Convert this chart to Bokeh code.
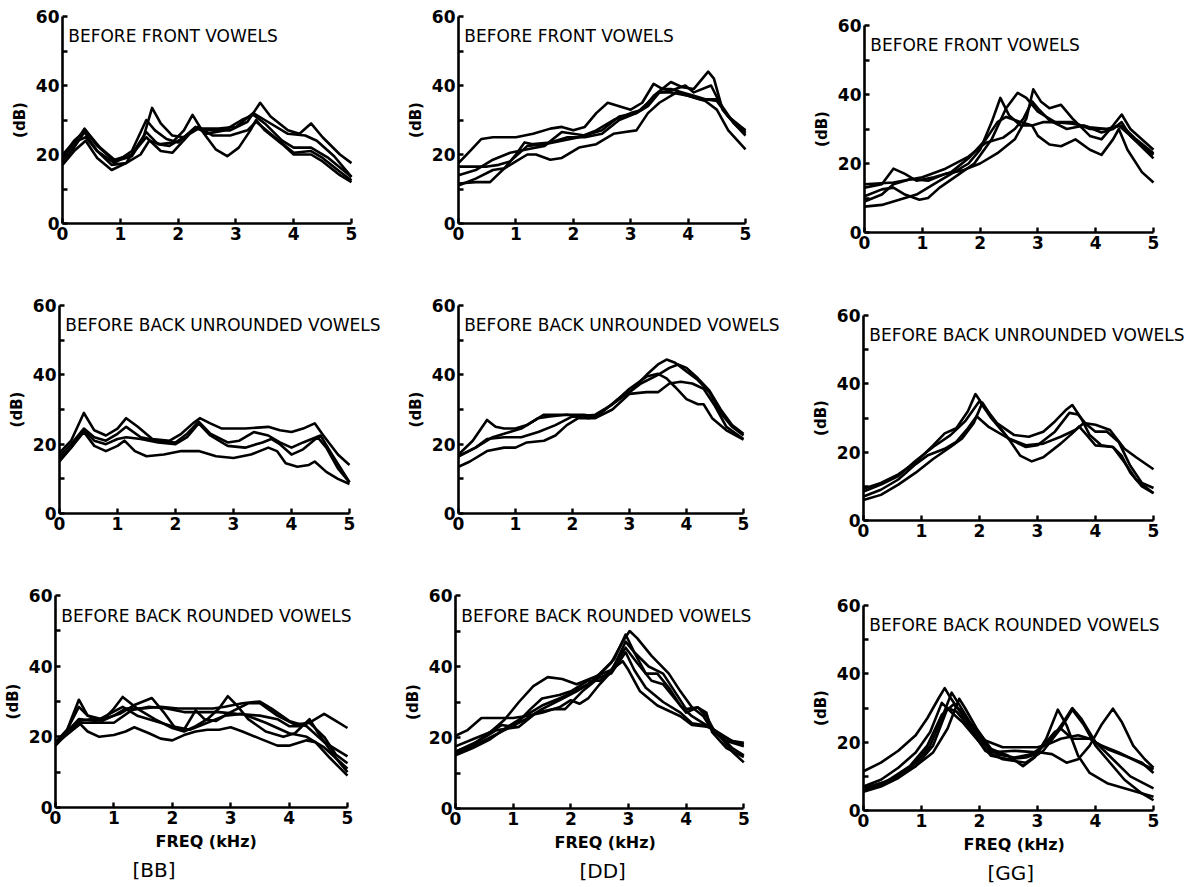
from bokeh.plotting import figure
from bokeh.layouts import row, column
from bokeh.models import FixedTicker, Label, Title, Range1d
from bokeh.embed import file_html
from bokeh.resources import INLINE

FREQ_TICKS = [0, 1, 2, 3, 4, 5]
DB_TICKS = [0, 20, 40, 60]
DB_MINOR = [10, 30, 50]
PANEL_TITLES = ["BEFORE FRONT VOWELS", "BEFORE BACK UNROUNDED VOWELS", "BEFORE BACK ROUNDED VOWELS"]
CONSONANTS = ["[BB]", "[DD]", "[GG]"]
X_LABEL = "FREQ (kHz)"
Y_LABEL = "(dB)"

# each curve: list of [frequency kHz, level dB]
BB_FRONT = [
    [[0, 19], [0.2, 23], [0.38, 27.5], [0.6, 22.5], [0.9, 18], [1.2, 19.5], [1.4, 25], [1.55, 33.5], [1.7, 29], [1.9, 25.5], [2.1, 25], [2.3, 27.5], [2.6, 27], [2.9, 27], [3.2, 29.5], [3.42, 35], [3.6, 31], [3.9, 27], [4.1, 26], [4.3, 29], [4.5, 25], [4.8, 20], [5, 17.5]],
    [[0, 18], [0.2, 22], [0.38, 26.5], [0.6, 21], [0.85, 17], [1.1, 17.5], [1.35, 20], [1.5, 24], [1.7, 23], [1.9, 23.5], [2.1, 27], [2.25, 31.5], [2.45, 26], [2.65, 21.5], [2.85, 19.5], [3.05, 22], [3.25, 27], [3.35, 30], [3.5, 27], [3.8, 23], [4.0, 20], [4.3, 20], [4.5, 18], [4.8, 14], [5, 12]],
    [[0, 20], [0.2, 23.5], [0.4, 25], [0.6, 21], [0.9, 17.5], [1.2, 21], [1.45, 30], [1.6, 27], [1.8, 24.5], [2.0, 23.5], [2.3, 28], [2.5, 26], [2.8, 27], [3.1, 30], [3.3, 31.5], [3.5, 29], [3.8, 24], [4.0, 22], [4.3, 22], [4.6, 19], [5, 13.5]],
    [[0, 17], [0.2, 21], [0.4, 24], [0.6, 19], [0.85, 15.5], [1.1, 17.5], [1.45, 26.5], [1.65, 23], [1.85, 22.5], [2.1, 25], [2.35, 28], [2.6, 25.5], [2.9, 25.5], [3.2, 27], [3.35, 29.5], [3.6, 26], [4.0, 20.5], [4.3, 21], [4.5, 19], [4.8, 15], [5, 12.5]],
    [[0, 19.5], [0.2, 24], [0.4, 27], [0.65, 22], [0.9, 18.5], [1.2, 20], [1.45, 25], [1.7, 21], [1.9, 20.5], [2.2, 26], [2.35, 27.5], [2.7, 27.5], [3.0, 28], [3.3, 32], [3.5, 30], [3.9, 26], [4.2, 25.5], [4.4, 24], [4.7, 19.5], [5, 13.5]],
]
DD_FRONT = [
    [[0, 17.5], [0.2, 21], [0.4, 24.5], [0.6, 25], [1.0, 25], [1.3, 26], [1.6, 27.5], [1.8, 28], [2.0, 27], [2.2, 28], [2.4, 32], [2.6, 35], [2.8, 34], [3.0, 33], [3.2, 35], [3.4, 40.5], [3.55, 39], [3.7, 39], [3.9, 38], [4.1, 37], [4.3, 36], [4.5, 35.5], [4.7, 31], [5, 27]],
    [[0, 16.5], [0.5, 16.5], [0.7, 17], [0.9, 18], [1.2, 22.5], [1.5, 23], [1.8, 24], [2.1, 25], [2.4, 27], [2.7, 30], [3.0, 32], [3.2, 33], [3.4, 37], [3.7, 41], [3.9, 39.5], [4.1, 39], [4.35, 44], [4.45, 42], [4.6, 33], [4.8, 29], [5, 26]],
    [[0, 14], [0.3, 15.5], [0.6, 18.5], [0.9, 20.5], [1.2, 21.5], [1.5, 22.5], [1.8, 26.5], [2.0, 26], [2.2, 25.5], [2.5, 27], [2.8, 31], [3.1, 32], [3.3, 34], [3.5, 38], [3.7, 38.5], [3.95, 40], [4.1, 38], [4.4, 40], [4.55, 35], [4.8, 29], [5, 25.5]],
    [[0, 11.6], [0.3, 12], [0.55, 12], [0.8, 16], [1.0, 20], [1.15, 23.5], [1.3, 23], [1.6, 23.5], [1.9, 25], [2.2, 25], [2.5, 26], [2.8, 30], [3.1, 32], [3.3, 35], [3.5, 38], [3.7, 38], [4.0, 37], [4.3, 35.5], [4.5, 33], [4.7, 27], [5, 21.5]],
    [[0, 11], [0.3, 13], [0.6, 15.5], [0.8, 16], [1.0, 18], [1.2, 20], [1.35, 20], [1.6, 18.5], [1.8, 19], [2.1, 22], [2.4, 23], [2.7, 26], [2.9, 26.5], [3.1, 27], [3.3, 32], [3.5, 35], [3.8, 38], [4.0, 37], [4.2, 36], [4.5, 36], [4.7, 31], [5, 26.5]],
]
GG_FRONT = [
    [[0, 7.5], [0.3, 8], [0.6, 9.5], [0.9, 11], [1.2, 14], [1.5, 17], [1.8, 20], [2.0, 24], [2.2, 32], [2.35, 39], [2.5, 34], [2.7, 31], [2.9, 31], [3.0, 28], [3.2, 25.5], [3.4, 25], [3.65, 27], [3.9, 24], [4.1, 22.5], [4.3, 27], [4.4, 30], [4.55, 24], [4.8, 17.5], [5, 14.5]],
    [[0, 10.5], [0.3, 12.5], [0.5, 13], [0.7, 11], [0.95, 9.5], [1.1, 10], [1.3, 13], [1.6, 16.5], [1.9, 20], [2.2, 27], [2.45, 36], [2.65, 40.5], [2.8, 39], [3.0, 35], [3.3, 32], [3.6, 31.5], [3.9, 30.5], [4.2, 30], [4.45, 31], [4.7, 27], [5, 23]],
    [[0, 9], [0.3, 11], [0.5, 14], [0.8, 15.5], [1.1, 15], [1.4, 17], [1.7, 18], [2.0, 20], [2.3, 23], [2.6, 27], [2.8, 33], [2.92, 41.5], [3.05, 38], [3.2, 36], [3.4, 37], [3.6, 33], [3.9, 28], [4.1, 27], [4.3, 31], [4.45, 34.2], [4.6, 30], [5, 24]],
    [[0, 13], [0.3, 14], [0.5, 18.5], [0.7, 17], [0.9, 15], [1.2, 16], [1.5, 17.5], [1.8, 21.5], [2.1, 27], [2.3, 32], [2.45, 33.5], [2.7, 32], [2.9, 31], [3.1, 32], [3.6, 32], [3.9, 30], [4.2, 30], [4.4, 31], [4.6, 28], [5, 21.5]],
    [[0, 14], [0.5, 14.5], [1.0, 16], [1.4, 18.5], [1.8, 22], [2.1, 26], [2.4, 27.5], [2.6, 30], [2.75, 33], [2.9, 38], [3.0, 36], [3.2, 32.5], [3.5, 30], [3.8, 31], [4.1, 29], [4.3, 30], [4.45, 32], [4.6, 28], [5, 22.5]],
]
BB_UNROUNDED = [
    [[0, 17.5], [0.2, 21], [0.42, 29], [0.6, 24], [0.8, 22.5], [1.0, 24.5], [1.15, 27.5], [1.35, 25], [1.6, 21.5], [1.9, 21], [2.1, 23], [2.3, 26], [2.42, 27.5], [2.6, 26], [2.8, 24.5], [3.2, 24.5], [3.6, 25], [3.8, 24], [4.0, 23.5], [4.2, 24.5], [4.4, 26], [4.55, 22.5], [4.8, 17], [5, 14]],
    [[0, 16.5], [0.2, 20], [0.42, 24.5], [0.6, 22], [0.8, 21], [1.0, 23], [1.15, 25], [1.4, 22], [1.7, 21], [2.0, 20.5], [2.2, 23], [2.4, 26.5], [2.6, 23], [2.9, 20.5], [3.1, 21], [3.35, 23.5], [3.6, 22.5], [3.8, 20.5], [4.0, 19], [4.2, 20.5], [4.5, 22.5], [4.7, 17], [5, 9]],
    [[0, 15.5], [0.2, 19], [0.42, 24], [0.6, 21], [0.8, 20], [1.0, 21.5], [1.15, 22], [1.4, 21.5], [1.7, 20.5], [2.0, 20], [2.2, 22], [2.4, 26], [2.6, 22.5], [2.9, 19.5], [3.2, 19], [3.5, 20.5], [3.65, 21.5], [3.8, 20], [4.0, 17], [4.2, 18.5], [4.45, 22], [4.6, 19], [4.8, 13], [5, 9]],
    [[0, 15], [0.2, 19], [0.42, 23.5], [0.6, 19.5], [0.8, 18], [1.0, 19.5], [1.12, 21], [1.3, 18], [1.5, 16.5], [1.8, 17], [2.1, 18], [2.4, 18], [2.7, 16.5], [3.0, 16], [3.3, 17], [3.6, 19], [3.75, 18], [3.9, 14.5], [4.1, 13.5], [4.3, 14], [4.4, 15], [4.6, 12], [4.8, 10], [5, 8.5]],
]
DD_UNROUNDED = [
    [[0, 17], [0.25, 21], [0.5, 27], [0.65, 25], [0.8, 24.5], [1.0, 24.5], [1.2, 25.5], [1.4, 27.5], [1.6, 28], [1.9, 28.5], [2.1, 28], [2.4, 28.5], [2.7, 31.5], [3.0, 36], [3.3, 39.5], [3.5, 40.3], [3.65, 39], [3.8, 36.5], [4.0, 33], [4.2, 31.5], [4.3, 31.5], [4.45, 27.5], [4.7, 24], [5, 21.3]],
    [[0, 16.5], [0.3, 19], [0.6, 22], [0.9, 23.5], [1.1, 24.5], [1.3, 26.5], [1.5, 28.5], [1.8, 28.5], [2.0, 28.5], [2.2, 28.5], [2.4, 28], [2.7, 31.5], [3.0, 35], [3.3, 40], [3.5, 43], [3.65, 44.4], [3.8, 43.5], [4.0, 41], [4.2, 38.5], [4.4, 35], [4.6, 29], [4.8, 25], [5, 22.5]],
    [[0, 16.5], [0.3, 19], [0.5, 21.5], [0.8, 22], [1.1, 22], [1.4, 23.5], [1.7, 25.5], [2.0, 28], [2.3, 27.5], [2.5, 29], [2.8, 33], [3.0, 35], [3.2, 37.5], [3.5, 40], [3.7, 42], [3.85, 43], [4.0, 42], [4.2, 39], [4.4, 35.5], [4.6, 30], [4.8, 25.5], [5, 23]],
    [[0, 13.5], [0.2, 15], [0.5, 18], [0.8, 19], [1.0, 19], [1.2, 20.5], [1.5, 21], [1.7, 22.5], [1.9, 25.5], [2.1, 27.5], [2.4, 27.5], [2.7, 30], [3.0, 34.5], [3.3, 35], [3.5, 35], [3.7, 37.5], [3.9, 38], [4.1, 37.5], [4.3, 36], [4.5, 31], [4.7, 25], [5, 21.5]],
]
GG_UNROUNDED = [
    [[0, 9.3], [0.3, 11], [0.6, 13.5], [0.9, 17], [1.2, 22], [1.4, 25.5], [1.6, 27], [1.8, 32], [1.93, 37], [2.05, 34], [2.3, 28.5], [2.6, 25], [2.85, 24.5], [3.1, 26], [3.3, 29], [3.5, 32.5], [3.6, 33.8], [3.75, 30], [3.9, 25], [4.1, 22], [4.3, 21.5], [4.45, 19], [4.6, 14], [4.8, 10], [5, 8]],
    [[0, 8.5], [0.3, 10.5], [0.6, 13], [0.9, 17.5], [1.2, 21.5], [1.5, 25], [1.75, 29], [2.0, 35], [2.2, 30], [2.5, 24], [2.8, 21.5], [3.0, 22], [3.3, 26], [3.55, 31.5], [3.7, 31], [3.85, 28], [4.0, 26], [4.2, 26], [4.4, 23], [4.6, 16], [4.8, 11], [5, 9.5]],
    [[0, 6], [0.3, 7.5], [0.6, 10.5], [0.9, 14], [1.2, 18], [1.5, 21.5], [1.7, 24], [1.9, 28.5], [2.05, 34.5], [2.2, 30.5], [2.5, 24], [2.7, 19], [2.9, 17.3], [3.1, 18.5], [3.4, 22.5], [3.6, 25.5], [3.72, 27.5], [3.85, 25], [4.0, 22], [4.3, 21.5], [4.5, 17], [4.7, 12], [5, 8]],
    [[0, 7], [0.3, 9], [0.6, 12], [0.9, 16.5], [1.1, 19], [1.4, 21], [1.6, 23], [1.8, 27], [1.95, 30.5], [2.15, 27.5], [2.5, 24], [2.8, 22], [3.1, 22.5], [3.4, 24.5], [3.65, 26.5], [3.8, 28.5], [4.0, 28], [4.25, 26.5], [4.5, 21], [4.7, 18.5], [5, 15]],
]
BB_ROUNDED = [
    [[0, 18], [0.2, 22], [0.4, 30.5], [0.55, 26], [0.8, 24.5], [1.0, 28], [1.15, 31.3], [1.4, 28], [1.7, 25], [2.0, 22.5], [2.2, 21.5], [2.4, 23], [2.6, 25], [2.8, 28], [2.95, 31.5], [3.1, 29], [3.3, 25], [3.6, 21.5], [3.9, 20], [4.1, 21], [4.35, 25], [4.5, 21], [4.8, 14], [5, 10]],
    [[0, 18.5], [0.2, 22], [0.4, 28.5], [0.55, 26], [0.8, 25], [1.1, 26.5], [1.35, 29], [1.65, 31], [1.85, 27], [2.05, 22.5], [2.2, 22], [2.4, 27.5], [2.55, 25], [2.75, 24.5], [3.0, 27], [3.3, 29.5], [3.5, 29.5], [3.8, 26], [4.1, 23.5], [4.35, 24], [4.6, 20], [4.8, 15], [5, 12.5]],
    [[0, 18], [0.2, 21.5], [0.4, 24.5], [0.6, 25], [0.8, 24.5], [1.0, 26], [1.2, 28], [1.5, 28], [1.8, 28.5], [2.1, 28], [2.4, 28], [2.7, 28], [2.9, 28.5], [3.2, 29.5], [3.5, 30], [3.7, 28], [4.0, 24.5], [4.3, 23], [4.6, 18.5], [5, 14.5]],
    [[0, 18], [0.3, 22], [0.45, 24], [0.7, 24], [1.0, 24], [1.3, 27.5], [1.6, 28.5], [1.9, 28], [2.2, 27], [2.5, 27], [2.8, 27], [3.1, 26.5], [3.5, 26], [3.8, 25], [4.0, 23], [4.2, 23], [4.4, 24.5], [4.6, 26.5], [4.8, 24.5], [5, 22.5]],
    [[0, 17.5], [0.2, 21], [0.4, 24], [0.55, 21.5], [0.75, 20], [1.0, 20.5], [1.2, 21.5], [1.35, 22.7], [1.6, 21], [1.8, 19.5], [2.0, 19], [2.2, 20.5], [2.4, 21.5], [2.6, 22], [2.8, 22], [3.0, 22.7], [3.2, 21.5], [3.5, 19.5], [3.8, 17.5], [4.0, 17.5], [4.3, 19], [4.45, 18.5], [4.7, 14], [5, 9]],
    [[0, 18], [0.4, 25], [0.7, 24.5], [1.15, 28.5], [1.4, 26], [1.7, 24.5], [2.0, 23], [2.3, 22], [2.6, 24], [2.9, 26], [3.2, 26.5], [3.6, 24], [4.0, 21], [4.3, 20], [4.6, 17], [5, 11]],
]
DD_ROUNDED = [
    [[0, 15.5], [0.3, 17.5], [0.6, 20], [0.9, 22.5], [1.2, 25], [1.5, 28], [1.8, 30.5], [2.1, 33], [2.4, 36], [2.7, 41], [2.9, 47], [3.02, 50], [3.15, 48], [3.4, 43], [3.7, 38], [3.9, 33], [4.1, 28.5], [4.3, 26], [4.45, 22], [4.7, 19], [5, 17.5]],
    [[0, 17.5], [0.3, 19.5], [0.6, 21.5], [0.85, 25], [1.1, 30], [1.35, 34.5], [1.6, 37], [1.85, 36.5], [2.1, 35], [2.4, 37], [2.7, 39], [2.9, 41.5], [3.0, 39], [3.2, 33], [3.5, 29], [3.9, 26], [4.1, 23.5], [4.4, 23], [4.6, 20], [4.8, 16], [5, 13]],
    [[0, 20.5], [0.2, 22], [0.45, 25.5], [0.8, 25.5], [1.0, 25.5], [1.2, 26], [1.5, 27], [1.8, 28.5], [2.0, 30.5], [2.15, 29.5], [2.3, 31], [2.5, 35], [2.7, 38.5], [2.95, 47], [3.1, 44], [3.35, 40], [3.6, 38], [3.8, 33], [4.0, 28], [4.2, 28.5], [4.35, 26], [4.5, 21.5], [4.8, 19], [5, 18.5]],
    [[0, 16], [0.3, 18], [0.6, 21.5], [0.8, 23.5], [1.0, 23], [1.3, 28], [1.5, 31], [1.8, 32], [2.0, 33], [2.3, 36], [2.5, 36], [2.7, 39], [2.95, 45.3], [3.15, 41], [3.4, 36], [3.6, 35], [3.8, 31], [4.0, 27], [4.2, 28.5], [4.35, 27], [4.45, 21.5], [4.7, 17], [5, 14.5]],
    [[0, 15], [0.3, 17], [0.6, 19.5], [0.9, 23], [1.2, 26], [1.5, 29], [1.8, 31], [2.0, 32.5], [2.3, 35], [2.5, 38], [2.75, 42], [2.95, 49], [3.1, 44], [3.3, 38], [3.5, 38], [3.7, 34], [3.9, 29], [4.1, 26], [4.3, 24], [4.5, 22], [4.8, 19], [5, 18]],
    [[0, 16], [0.4, 19], [0.7, 22], [0.9, 22.5], [1.1, 23], [1.4, 27], [1.7, 28], [1.9, 28], [2.2, 33], [2.5, 37], [2.7, 38], [2.95, 44], [3.1, 39], [3.3, 34], [3.6, 30], [3.9, 27], [4.1, 24], [4.3, 23.5], [4.5, 22], [4.8, 17], [5, 15]],
]
GG_ROUNDED = [
    [[0, 11.5], [0.3, 14], [0.6, 17.5], [0.9, 22], [1.1, 27], [1.3, 33], [1.4, 35.8], [1.5, 33], [1.7, 28], [1.9, 24], [2.1, 20.5], [2.4, 18.5], [2.7, 18.5], [3.0, 18.5], [3.2, 19.5], [3.4, 21], [3.7, 22], [3.9, 21], [4.1, 19], [4.4, 17], [4.7, 14.5], [5, 12]],
    [[0, 6], [0.3, 7.5], [0.6, 10], [0.9, 14], [1.15, 19], [1.35, 27], [1.52, 34.5], [1.65, 31], [1.85, 25.5], [2.1, 19.5], [2.3, 16.5], [2.6, 15.5], [2.9, 16.5], [3.2, 20], [3.45, 26], [3.6, 30], [3.75, 27], [4.0, 20], [4.3, 15], [4.6, 10], [5, 6.5]],
    [[0, 6.5], [0.3, 8], [0.6, 10], [0.9, 13], [1.2, 17], [1.45, 24], [1.65, 32.7], [1.75, 30], [1.95, 24], [2.2, 18], [2.5, 16], [2.75, 13], [2.95, 15.5], [3.15, 21], [3.35, 29.5], [3.5, 25], [3.7, 16], [3.9, 11], [4.2, 8], [4.6, 6], [5, 4]],
    [[0, 7], [0.3, 9], [0.6, 12.5], [0.9, 17], [1.15, 23], [1.35, 31.5], [1.5, 29], [1.7, 26], [1.9, 22], [2.2, 16], [2.5, 15], [2.8, 15.5], [3.05, 17], [3.25, 16.5], [3.5, 14], [3.7, 15], [3.9, 19], [4.1, 25], [4.3, 29.8], [4.45, 26], [4.65, 19], [4.85, 15], [5, 12.5]],
    [[0, 5.5], [0.3, 7], [0.6, 9.5], [0.9, 13], [1.2, 19], [1.45, 30], [1.6, 29], [1.8, 25], [2.1, 17.5], [2.4, 15], [2.8, 14], [3.1, 17.5], [3.4, 24], [3.6, 29.5], [3.8, 25], [4.0, 19], [4.2, 15], [4.5, 9], [4.8, 5], [5, 3]],
    [[0, 6.5], [0.4, 8.5], [0.8, 13], [1.1, 19], [1.35, 28], [1.55, 31], [1.7, 29], [1.9, 23], [2.2, 17], [2.6, 17.5], [3.0, 17], [3.3, 23], [3.4, 24], [3.6, 21], [3.9, 21], [4.2, 18], [4.5, 16], [4.8, 14], [5, 11]],
]

PANELS = [
    [BB_FRONT, DD_FRONT, GG_FRONT],
    [BB_UNROUNDED, DD_UNROUNDED, GG_UNROUNDED],
    [BB_ROUNDED, DD_ROUNDED, GG_ROUNDED],
]

# layout geometry (pixels)
COL_W = [400, 400, 393]
ROW_H = [280, 290, 317]
# (left border, width of 0-5 kHz span, top border, frame height)
CELL = [
    [(62, 289, 16, 207), (58, 287, 16, 207), (64, 289, 25, 207)],
    [(59, 290, 25, 208), (58, 285, 25, 208), (63, 290, 35, 205)],
    [(55, 292, 25, 212), (53, 290, 25, 213), (63, 290, 35, 205)],
]
# left-edge pixel offsets of the bottom captions from the frame's left edge
XLABEL_OFFSET = [100, 99, 100]
CONSONANT_OFFSET = [77, 124, 124]

FONT = "DejaVu Sans"


def make_panel(r, c):
    left, fw, top, fh = CELL[r][c]
    W, H = COL_W[c], ROW_H[r]
    full_w = W - left
    x_end = 5.0 * full_w / fw
    p = figure(width=W, height=H, x_range=Range1d(0, x_end), y_range=Range1d(0, 60),
               output_backend="svg", toolbar_location=None, title=None,
               min_border_left=left, min_border_right=0,
               min_border_top=top, min_border_bottom=H - top - fh)
    p.outline_line_color = None
    p.xgrid.visible = False
    p.ygrid.visible = False
    p.background_fill_color = "white"
    p.border_fill_color = "white"
    p.xaxis.ticker = FixedTicker(ticks=FREQ_TICKS)
    p.xaxis.bounds = (0, 5)
    p.yaxis.ticker = FixedTicker(ticks=DB_TICKS, minor_ticks=DB_MINOR)
    for ax in (p.xaxis[0], p.yaxis[0]):
        ax.axis_line_width = 2.6
        ax.axis_line_color = "black"
        ax.major_tick_in = 5
        ax.major_tick_out = 0
        ax.minor_tick_in = 5
        ax.minor_tick_out = 0
        ax.major_tick_line_width = 2.4
        ax.minor_tick_line_width = 2.4
        ax.major_tick_line_color = "black"
        ax.minor_tick_line_color = "black"
        ax.major_label_text_font = FONT
        ax.major_label_text_font_style = "bold"
        ax.major_label_text_font_size = "17px"
        ax.major_label_text_color = "black"
        ax.major_label_standoff = 3
    p.yaxis.axis_label = Y_LABEL
    p.yaxis.axis_label_text_font = FONT
    p.yaxis.axis_label_text_font_style = "bold"
    p.yaxis.axis_label_text_font_size = "15px"
    p.yaxis.axis_label_text_color = "black"
    p.yaxis.axis_label_standoff = 4
    for curve in PANELS[r][c]:
        xs = [pt[0] for pt in curve]
        ys = [pt[1] for pt in curve]
        p.line(xs, ys, line_color="black", line_width=2.6, line_join="round")
    p.add_layout(Label(x=0.1, y=54.3, text=PANEL_TITLES[r], text_font=FONT,
                       text_font_size="17px", text_baseline="middle", text_color="black"))
    if r == 2:
        p.add_layout(Title(text=X_LABEL, align="left", offset=XLABEL_OFFSET[c],
                           text_font=FONT, text_font_size="16px", text_font_style="bold",
                           text_color="black", standoff=7), "below")
        p.add_layout(Title(text=CONSONANTS[c], align="left", offset=CONSONANT_OFFSET[c],
                           text_font=FONT, text_font_size="20px", text_font_style="normal",
                           text_color="black", standoff=2), "below")
    return p


# each figure wrapped in its own column so rows do not force shared borders
rows = [row(*[column(make_panel(r, c)) for c in range(3)]) for r in range(3)]
layout = column(*rows)
open("out.html", "w").write(file_html(layout, INLINE))
